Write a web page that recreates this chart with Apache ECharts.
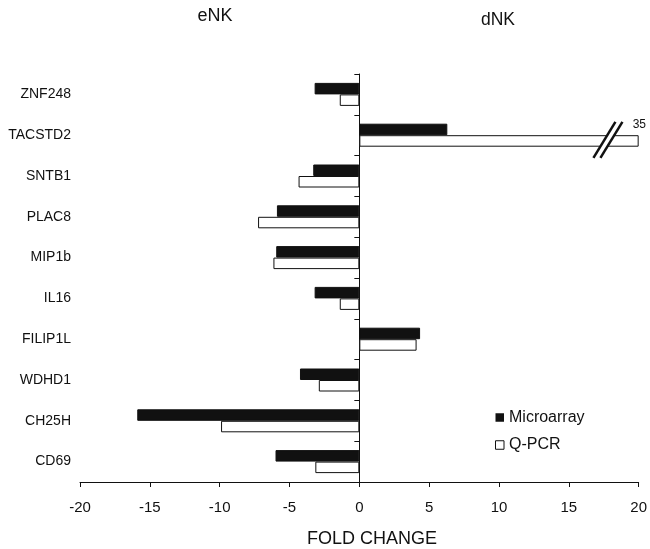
<!DOCTYPE html>
<html><head><meta charset="utf-8">
<script src="https://cdn.jsdelivr.net/npm/echarts@6/dist/echarts.min.js"></script>
<style>html,body{margin:0;padding:0;background:#fff}#c{width:650px;height:549px}</style>
</head><body><div id="c"></div>
<script>
// ---- data ----
const genes = ['ZNF248','TACSTD2','SNTB1','PLAC8','MIP1b','IL16','FILIP1L','WDHD1','CH25H','CD69'];
const microarray = [-3.2, 6.3, -3.3, -5.9, -5.95, -3.2, 4.35, -4.25, -15.9, -6.0];
const qpcr = [-1.4, 35, -4.35, -7.25, -6.15, -1.4, 4.1, -2.9, -9.9, -3.15];
const xMin = -20, xMax = 20, xInterval = 5;
const breakGene = 'TACSTD2';
const breakAt = 17.8;

const FONT = "'Liberation Sans', Arial, Helvetica, sans-serif";
const INK = '#111';
const barW = 11.5;

const chart = echarts.init(document.getElementById('c'), null, {renderer: 'canvas'});

const qpcrData = qpcr.map(v => v > xMax ? {
  value: xMax,
  label: {show: true, position: 'right', distance: 0, offset: [-6, -16.5],
          formatter: String(v), fontSize: 12, color: INK, fontFamily: FONT}
} : v);

chart.setOption({
  animation: false,
  backgroundColor: '#fff',
  textStyle: {fontFamily: FONT},
  grid: {left: 80, right: 10, top: 74, bottom: 67, containLabel: false},
  xAxis: {
    type: 'value', min: xMin, max: xMax, interval: xInterval,
    axisLine: {show: true, lineStyle: {color: INK, width: 1}},
    axisTick: {show: true, length: 5, lineStyle: {color: INK}},
    axisLabel: {fontSize: 15, color: INK, margin: 18, fontFamily: FONT},
    splitLine: {show: false}
  },
  yAxis: [{
    type: 'category', data: genes, inverse: true,
    axisLine: {show: true, onZero: true, lineStyle: {color: INK, width: 1}},
    axisTick: {show: true, length: 5, lineStyle: {color: INK}},
    axisLabel: {show: false}
  }, {
    type: 'category', data: genes, inverse: true, position: 'left',
    axisLine: {show: false, onZero: false},
    axisTick: {show: false},
    axisLabel: {show: true, fontSize: 14, color: INK, margin: 9, align: 'right', fontFamily: FONT}
  }],
  legend: {
    orient: 'vertical', left: 495, top: 409.5, icon: 'rect', padding: 0,
    itemWidth: 8.5, itemHeight: 8.5, itemGap: 11.5,
    textStyle: {fontSize: 16, color: INK, fontFamily: FONT, lineHeight: 16},
    data: [
      {name: 'Microarray', itemStyle: {color: INK, borderWidth: 0}},
      {name: 'Q-PCR', itemStyle: {color: '#fff', borderColor: INK, borderWidth: 1}}
    ]
  },
  graphic: [
    {type: 'text', x: 215, y: 16.5, style: {text: 'eNK', fontSize: 18, fill: INK, fontFamily: FONT, align: 'center', verticalAlign: 'middle'}},
    {type: 'text', x: 498, y: 20, style: {text: 'dNK', fontSize: 17.5, fill: INK, fontFamily: FONT, align: 'center', verticalAlign: 'middle'}},
    {type: 'text', x: 372, y: 539, style: {text: 'FOLD CHANGE', fontSize: 18, fill: INK, fontFamily: FONT, align: 'center', verticalAlign: 'middle'}}
  ],
  series: [{
    name: 'Microarray', type: 'bar', yAxisIndex: 0, data: microarray,
    barWidth: barW, barGap: '0%',
    itemStyle: {color: INK, borderColor: INK, borderWidth: 1}
  }, {
    name: 'Q-PCR', type: 'bar', yAxisIndex: 0, data: qpcrData,
    barWidth: barW, barGap: '0%',
    itemStyle: {color: '#fff', borderColor: INK, borderWidth: 1}
  }, {
    name: 'break', type: 'custom', yAxisIndex: 0, z: 5, clip: false,
    data: [[breakAt, genes.indexOf(breakGene)]],
    encode: {x: 0, y: 1},
    renderItem: function (params, api) {
      const p = api.coord([api.value(0), api.value(1)]);
      const x = p[0], y = p[1] + barW / 2 - 1;
      return {type: 'group', children: [
        {type: 'polygon', shape: {points: [[x - 14.5, y + 18], [x - 7.5, y + 18], [x + 14.5, y - 18], [x + 7.5, y - 18]]}, style: {fill: '#fff'}},
        {type: 'line', shape: {x1: x - 14.5, y1: y + 18, x2: x + 7.5, y2: y - 18}, style: {stroke: INK, lineWidth: 2.5}},
        {type: 'line', shape: {x1: x - 7.5, y1: y + 18, x2: x + 14.5, y2: y - 18}, style: {stroke: INK, lineWidth: 2.5}}
      ]};
    }
  }]
});
</script></body></html>
